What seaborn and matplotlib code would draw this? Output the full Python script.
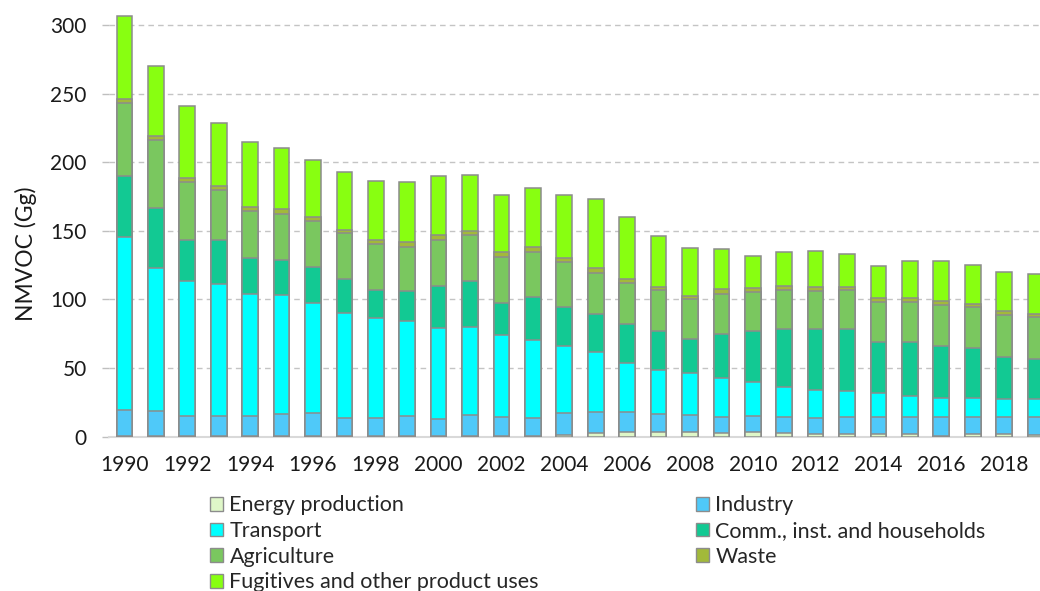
import matplotlib
matplotlib.use("Agg")
import matplotlib.pyplot as plt
import matplotlib.patches as mpatches
import seaborn as sns
import pandas as pd
import numpy as np

years = list(range(1990, 2020))

energy = [0.3, 0.3, 0.3, 0.3, 0.3, 0.3, 0.3, 0.3, 0.3, 0.3,
          0.3, 0.3, 0.3, 0.3, 1.5, 2.5, 3.2, 3.2, 3.2, 2.5,
          3.2, 2.5, 1.7, 1.7, 1.7, 1.7, 0.8, 1.7, 1.7, 1.0]
industry = [19.2, 18.4, 14.6, 14.6, 14.6, 16.0, 16.7, 13.5, 13.5, 14.6,
            12.8, 15.3, 13.8, 13.5, 15.5, 15.3, 14.6, 13.1, 12.4, 12.1,
            12.1, 12.1, 12.1, 12.9, 12.9, 12.9, 13.8, 12.9, 12.9, 13.6]
transport = [126.0, 104.0, 98.6, 96.2, 88.9, 86.7, 80.2, 76.1, 72.7, 69.6,
             65.9, 64.1, 60.2, 56.9, 48.9, 44.1, 35.9, 32.5, 30.6, 28.4,
             24.6, 21.8, 20.3, 18.8, 17.5, 15.3, 13.6, 13.6, 12.9, 12.9]
comm = [44.3, 44.3, 29.6, 32.0, 26.2, 25.5, 26.2, 24.8, 20.6, 21.9,
        30.6, 34.0, 22.9, 31.3, 28.8, 27.3, 28.2, 28.0, 25.0, 32.0,
        36.9, 42.1, 44.4, 45.1, 37.1, 39.3, 37.9, 36.2, 30.3, 28.9]
agriculture = [53.6, 49.0, 42.3, 36.5, 34.2, 33.6, 33.6, 33.5, 33.3, 32.1,
               33.5, 33.5, 33.5, 32.8, 32.6, 30.1, 29.9, 29.9, 28.9, 29.2,
               28.4, 28.2, 27.9, 28.4, 29.2, 29.2, 29.9, 30.3, 30.9, 30.6]
waste = [2.6, 2.9, 2.9, 2.9, 3.4, 3.6, 2.9, 2.6, 3.2, 3.2,
         3.7, 2.7, 3.7, 3.7, 2.9, 3.6, 2.9, 2.6, 2.4, 3.2,
         3.4, 2.9, 2.9, 2.4, 2.9, 2.9, 2.9, 1.8, 2.9, 2.2]
fugitives = [60.8, 51.0, 52.9, 46.3, 47.4, 44.4, 42.0, 42.1, 42.7, 43.7,
             42.9, 40.6, 42.0, 42.9, 46.2, 50.3, 45.4, 36.9, 34.8, 29.1,
             22.9, 25.2, 26.2, 24.0, 22.9, 27.0, 29.4, 28.4, 28.4, 29.4]

sectors = ["Energy production", "Industry", "Transport",
           "Comm., inst. and households", "Agriculture", "Waste",
           "Fugitives and other product uses"]
series = [energy, industry, transport, comm, agriculture, waste, fugitives]
colors = ["#DFF7C8", "#4FC9F9", "#00FFFF", "#12C993", "#7AC75F", "#A2B93A", "#88FF11"]

df = pd.DataFrame({"year": [str(y) for y in years]})
cum = np.zeros(len(years))
for name, vals in zip(sectors, series):
    cum = cum + np.array(vals)
    df[name] = cum

sns.set_style("white")
plt.rcParams["font.family"] = ["Lato", "DejaVu Sans"]

fig = plt.figure(figsize=(10.4, 5.91), dpi=100)
ax = fig.add_axes([0.1046, 0.2611, 0.8959, 0.7389])

for name, col in reversed(list(zip(sectors, colors))):
    sns.barplot(data=df, x="year", y=name, color=col, width=0.5,
                edgecolor="#8C8C8C", linewidth=1.1, saturation=1,
                ax=ax, zorder=3)

ax.set_ylim(0, 318.2)
ax.set_xlim(-0.5, 29.16)
ax.set_yticks(range(0, 301, 50))
ax.yaxis.grid(True, linestyle=(0, (4, 3)), color="#C4C4C4", linewidth=1.0, zorder=0)
ax.xaxis.grid(False)
ax.set_axisbelow(True)

ax.set_xticks(range(0, 30, 2))
ax.set_xticklabels([str(y) for y in years[::2]])
ax.tick_params(axis="x", length=0, pad=13, labelsize=15, colors="#1A1A1A")
ax.tick_params(axis="y", length=5, width=1, color="#BFBFBF", pad=11, labelsize=15,
               labelcolor="#1A1A1A", left=True)

for s in ["top", "right", "left"]:
    ax.spines[s].set_visible(False)
ax.spines["bottom"].set_color("#D9D9D9")
ax.spines["bottom"].set_linewidth(1.5)

ax.set_xlabel("")
ax.set_ylabel("NMVOC (Gg)", fontsize=16.5, color="#1A1A1A")
ax.yaxis.set_label_coords(-0.077, 0.418)

handles = {n: mpatches.Patch(facecolor=c, edgecolor="#8C8C8C", linewidth=1.0)
           for n, c in zip(sectors, colors)}
order = ["Energy production", "Transport", "Agriculture",
         "Fugitives and other product uses",
         "Industry", "Comm., inst. and households", "Waste"]
fig.legend([handles[o] for o in order], order, ncol=2, loc="upper left",
           bbox_to_anchor=(0.202, 0.162), frameon=False, fontsize=15.5,
           handlelength=0.6, handleheight=0.6, handletextpad=0.3,
           labelspacing=0.265, columnspacing=7.3, borderaxespad=0, borderpad=0)

fig.savefig("out.png", dpi=100)
